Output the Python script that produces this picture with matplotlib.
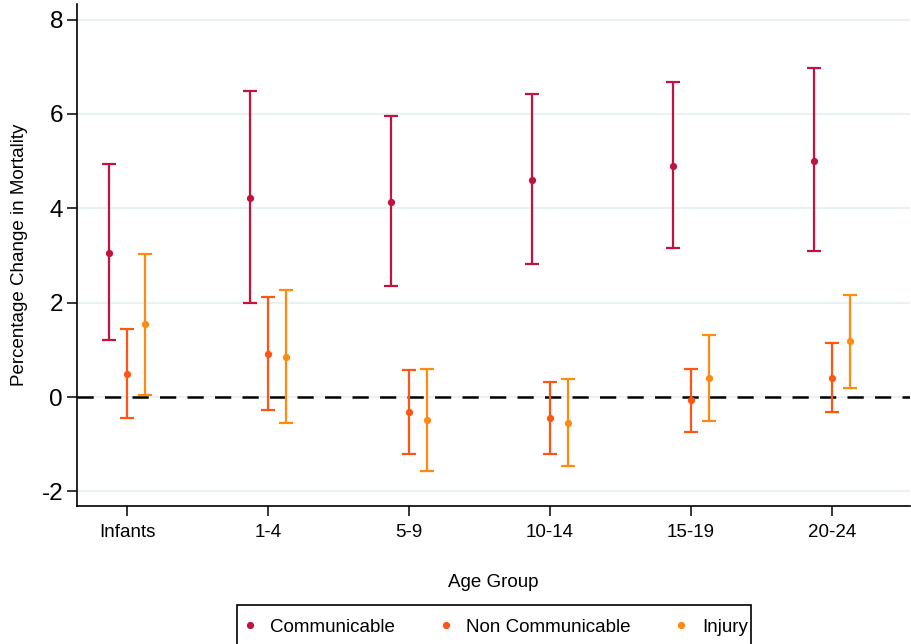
import matplotlib
matplotlib.use("Agg")
import matplotlib.pyplot as plt
import numpy as np
from matplotlib.lines import Line2D
from matplotlib.patches import Rectangle

plt.rcParams['font.family'] = ['Liberation Sans', 'DejaVu Sans']

groups = ["Infants", "1-4", "5-9", "10-14", "15-19", "20-24"]
series = ["Communicable", "Non Communicable", "Injury"]
colors = ["#C2133E", "#FF5514", "#FF8A12"]

comm_est = [3.05, 4.22, 4.14, 4.60, 4.89, 5.01]
comm_lo = [1.21, 2.00, 2.35, 2.82, 3.16, 3.09]
comm_hi = [4.93, 6.49, 5.96, 6.43, 6.68, 6.98]

nonc_est = [0.49, 0.92, -0.32, -0.44, -0.07, 0.40]
nonc_lo = [-0.44, -0.27, -1.21, -1.21, -0.75, -0.32]
nonc_hi = [1.44, 2.13, 0.57, 0.31, 0.59, 1.14]

inj_est = [1.54, 0.85, -0.48, -0.55, 0.40, 1.18]
inj_lo = [0.05, -0.55, -1.56, -1.47, -0.51, 0.20]
inj_hi = [3.04, 2.27, 0.60, 0.38, 1.32, 2.16]

offsets = [-0.128, 0.0, 0.128]

fig = plt.figure(figsize=(9.11, 6.44), dpi=100)
ax = fig.add_axes([77/911, 1-506/644, (910-77)/911, (506-4)/644])

yticks = [-2, 0, 2, 4, 6, 8]
for yt in yticks:
    ax.axhline(yt, color="#EAF1F3", lw=1.5, zorder=0)
ax.axhline(0, color="black", lw=1.8, ls=(0, (6.5, 4.5)), zorder=1)

data = [(comm_est, comm_lo, comm_hi), (nonc_est, nonc_lo, nonc_hi), (inj_est, inj_lo, inj_hi)]
x = np.arange(len(groups))
for (est, lo, hi), off, c, name in zip(data, offsets, colors, series):
    est = np.array(est); lo = np.array(lo); hi = np.array(hi)
    yerr = np.vstack([est - lo, hi - est])
    ax.errorbar(x + off, est, yerr=yerr, fmt='o', color=c, ecolor=c, ms=4.2,
                elinewidth=1.6, capsize=4.8, capthick=1.6, zorder=3, label=name)

ax.set_xlim(-0.355, 5.553)
ax.set_ylim(-2.31, 8.33)
ax.set_yticks(yticks)
ax.set_yticklabels([str(v) for v in yticks], fontsize=17.5)
ax.set_xticks(x)
ax.set_xticklabels(groups, fontsize=13.5)
ax.tick_params(axis='both', direction='out', length=7, width=1.1, color='black')
ax.tick_params(axis='y', pad=3)
ax.tick_params(axis='x', pad=6)
for s in ['top', 'right']:
    ax.spines[s].set_visible(False)
for s in ['left', 'bottom']:
    ax.spines[s].set_linewidth(1.2)

ax.set_xlabel("Age Group", fontsize=13.5, labelpad=24)
ax.set_ylabel("Percentage Change in Mortality", fontsize=13.5, labelpad=10)

handles = [Line2D([], [], marker='o', ls='none', color=c, ms=4.2) for c in colors]
leg = fig.legend(handles, series, loc='center', bbox_to_anchor=(494/911, 1-627/644),
                 ncol=3, fontsize=13.5, frameon=False,
                 handlelength=1.0, handletextpad=0.6, columnspacing=2.2, borderpad=0.2,
                 borderaxespad=0)
fig.patches.append(Rectangle((237/911, -10/644), (751-237)/911, (49)/644,
                             transform=fig.transFigure, fill=False, edgecolor='black',
                             lw=1.2, zorder=0))

fig.savefig("out.png", dpi=100)
